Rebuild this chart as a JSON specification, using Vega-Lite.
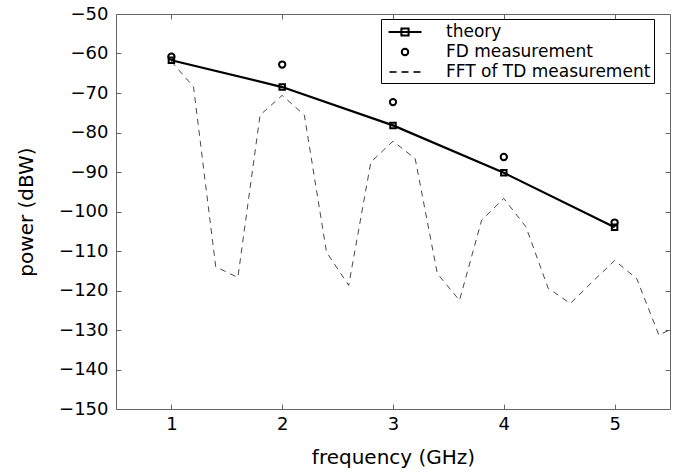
{
  "$schema": "https://vega.github.io/schema/vega-lite/v6.json",
  "width": 554,
  "height": 395,
  "autosize": "none",
  "padding": {"left": 116, "top": 14, "right": 8, "bottom": 66},
  "background": "white",
  "config": {
    "font": "DejaVu Sans",
    "view": {"stroke": null},
    "axis": {
      "grid": false,
      "domainColor": "#666666",
      "domainWidth": 1,
      "tickColor": "#666666",
      "tickWidth": 1,
      "labelColor": "#000000",
      "labelFont": "DejaVu Sans",
      "labelFontSize": 18,
      "titleFont": "DejaVu Sans",
      "titleFontSize": 20,
      "titleFontWeight": "normal",
      "titleColor": "#000000"
    }
  },
  "data": {
    "values": [
      {"f": 1, "power": -61.7, "series": "theory"},
      {"f": 2, "power": -68.5, "series": "theory"},
      {"f": 3, "power": -78.2, "series": "theory"},
      {"f": 4, "power": -90.2, "series": "theory"},
      {"f": 5, "power": -104.0, "series": "theory"},
      {"f": 1, "power": -60.8, "series": "FD measurement"},
      {"f": 2, "power": -62.8, "series": "FD measurement"},
      {"f": 3, "power": -72.3, "series": "FD measurement"},
      {"f": 4, "power": -86.2, "series": "FD measurement"},
      {"f": 5, "power": -102.8, "series": "FD measurement"},
      {"f": 1.0, "power": -62.0, "series": "FFT of TD measurement"},
      {"f": 1.2, "power": -68.5, "series": "FFT of TD measurement"},
      {"f": 1.4, "power": -114.0, "series": "FFT of TD measurement"},
      {"f": 1.6, "power": -116.7, "series": "FFT of TD measurement"},
      {"f": 1.8, "power": -75.6, "series": "FFT of TD measurement"},
      {"f": 2.0, "power": -70.6, "series": "FFT of TD measurement"},
      {"f": 2.2, "power": -75.6, "series": "FFT of TD measurement"},
      {"f": 2.4, "power": -110.3, "series": "FFT of TD measurement"},
      {"f": 2.6, "power": -118.7, "series": "FFT of TD measurement"},
      {"f": 2.8, "power": -87.5, "series": "FFT of TD measurement"},
      {"f": 3.0, "power": -82.2, "series": "FFT of TD measurement"},
      {"f": 3.2, "power": -86.6, "series": "FFT of TD measurement"},
      {"f": 3.4, "power": -115.7, "series": "FFT of TD measurement"},
      {"f": 3.6, "power": -122.5, "series": "FFT of TD measurement"},
      {"f": 3.8, "power": -102.2, "series": "FFT of TD measurement"},
      {"f": 4.0, "power": -96.7, "series": "FFT of TD measurement"},
      {"f": 4.2, "power": -103.9, "series": "FFT of TD measurement"},
      {"f": 4.4, "power": -119.4, "series": "FFT of TD measurement"},
      {"f": 4.6, "power": -123.3, "series": "FFT of TD measurement"},
      {"f": 4.8, "power": -117.8, "series": "FFT of TD measurement"},
      {"f": 5.0, "power": -112.4, "series": "FFT of TD measurement"},
      {"f": 5.2, "power": -117.0, "series": "FFT of TD measurement"},
      {"f": 5.4, "power": -131.3, "series": "FFT of TD measurement"},
      {"f": 5.6, "power": -128.5, "series": "FFT of TD measurement"}
    ]
  },
  "layer": [
    {
      "transform": [{"filter": "datum.series === 'FFT of TD measurement'"}],
      "mark": {"type": "line", "color": "#333333", "strokeWidth": 0.9, "strokeDash": [6, 5], "clip": true},
      "encoding": {
        "x": {
          "field": "f", "type": "quantitative",
          "scale": {"domain": [0.5, 5.5], "nice": false, "zero": false},
          "axis": {"orient": "bottom", "values": [1, 2, 3, 4, 5], "title": "frequency (GHz)", "tickSize": -5, "labelPadding": 11, "titlePadding": 14}
        },
        "y": {
          "field": "power", "type": "quantitative",
          "scale": {"domain": [-150, -50], "nice": false, "zero": false},
          "axis": {"orient": "left", "values": [-150, -140, -130, -120, -110, -100, -90, -80, -70, -60, -50], "title": "power (dBW)", "tickSize": -5, "labelPadding": 13, "titlePadding": 22}
        }
      }
    },
    {
      "transform": [{"filter": "datum.series === 'theory'"}],
      "mark": {"type": "line", "color": "#000000", "strokeWidth": 2.2},
      "encoding": {
        "x": {"field": "f", "type": "quantitative", "axis": null},
        "y": {"field": "power", "type": "quantitative", "axis": null}
      }
    },
    {
      "transform": [{"filter": "datum.series === 'theory'"}],
      "mark": {"type": "point", "shape": "square", "filled": false, "size": 30, "stroke": "#000000", "strokeWidth": 2, "opacity": 1},
      "encoding": {
        "x": {"field": "f", "type": "quantitative", "axis": null},
        "y": {"field": "power", "type": "quantitative", "axis": null}
      }
    },
    {
      "transform": [{"filter": "datum.series === 'FD measurement'"}],
      "mark": {"type": "point", "shape": "circle", "filled": false, "size": 40, "stroke": "#000000", "strokeWidth": 2, "opacity": 1},
      "encoding": {
        "x": {"field": "f", "type": "quantitative", "axis": {"orient": "top", "values": [1, 2, 3, 4, 5], "labels": false, "title": null, "tickSize": -5}},
        "y": {"field": "power", "type": "quantitative", "axis": {"orient": "right", "values": [-150, -140, -130, -120, -110, -100, -90, -80, -70, -60, -50], "labels": false, "title": null, "tickSize": -5}}
      }
    },
    {
      "mark": {"type": "point", "filled": false, "opacity": 0, "size": 324},
      "encoding": {
        "x": {"field": "f", "type": "quantitative", "axis": null},
        "y": {"field": "power", "type": "quantitative", "axis": null},
        "shape": {
          "field": "series", "type": "nominal",
          "scale": {
            "domain": ["theory", "FD measurement", "FFT of TD measurement"],
            "range": [
              "M-1.83,0H1.83M-0.4,-0.4H0.4V0.4H-0.4Z",
              "M-0.36,0A0.36,0.36,0,1,0,0.36,0A0.36,0.36,0,1,0,-0.36,0Z",
              "M-1.72,0H-0.94M-0.39,0H0.39M0.94,0H1.72"
            ]
          },
          "legend": {"orient": "none", "legendX": 265, "legendY": 5, "title": null, "strokeColor": "#000000", "fillColor": "white", "padding": 3, "symbolSize": 324, "symbolOpacity": 1, "symbolOffset": 11, "labelOffset": 31, "labelFont": "DejaVu Sans", "labelFontSize": 17, "labelLimit": 400, "labelColor": "#000000", "rowPadding": 2}
        },
        "stroke": {
          "field": "series", "type": "nominal",
          "scale": {"domain": ["theory", "FD measurement", "FFT of TD measurement"], "range": ["#000000", "#000000", "#333333"]},
          "legend": {"orient": "none", "legendX": 265, "legendY": 5, "title": null, "strokeColor": "#000000", "fillColor": "white", "padding": 3, "symbolSize": 324, "symbolOpacity": 1, "symbolOffset": 11, "labelOffset": 31, "labelFont": "DejaVu Sans", "labelFontSize": 17, "labelLimit": 400, "labelColor": "#000000", "rowPadding": 2}
        },
        "strokeWidth": {
          "field": "series", "type": "ordinal",
          "scale": {"domain": ["theory", "FD measurement", "FFT of TD measurement"], "range": [2, 2, 1]},
          "legend": {"orient": "none", "legendX": 265, "legendY": 5, "title": null, "strokeColor": "#000000", "fillColor": "white", "padding": 3, "symbolSize": 324, "symbolOpacity": 1, "symbolOffset": 11, "labelOffset": 31, "labelFont": "DejaVu Sans", "labelFontSize": 17, "labelLimit": 400, "labelColor": "#000000", "rowPadding": 2}
        }
      }
    }
  ],
  "resolve": {"axis": {"x": "independent", "y": "independent"}}
}
